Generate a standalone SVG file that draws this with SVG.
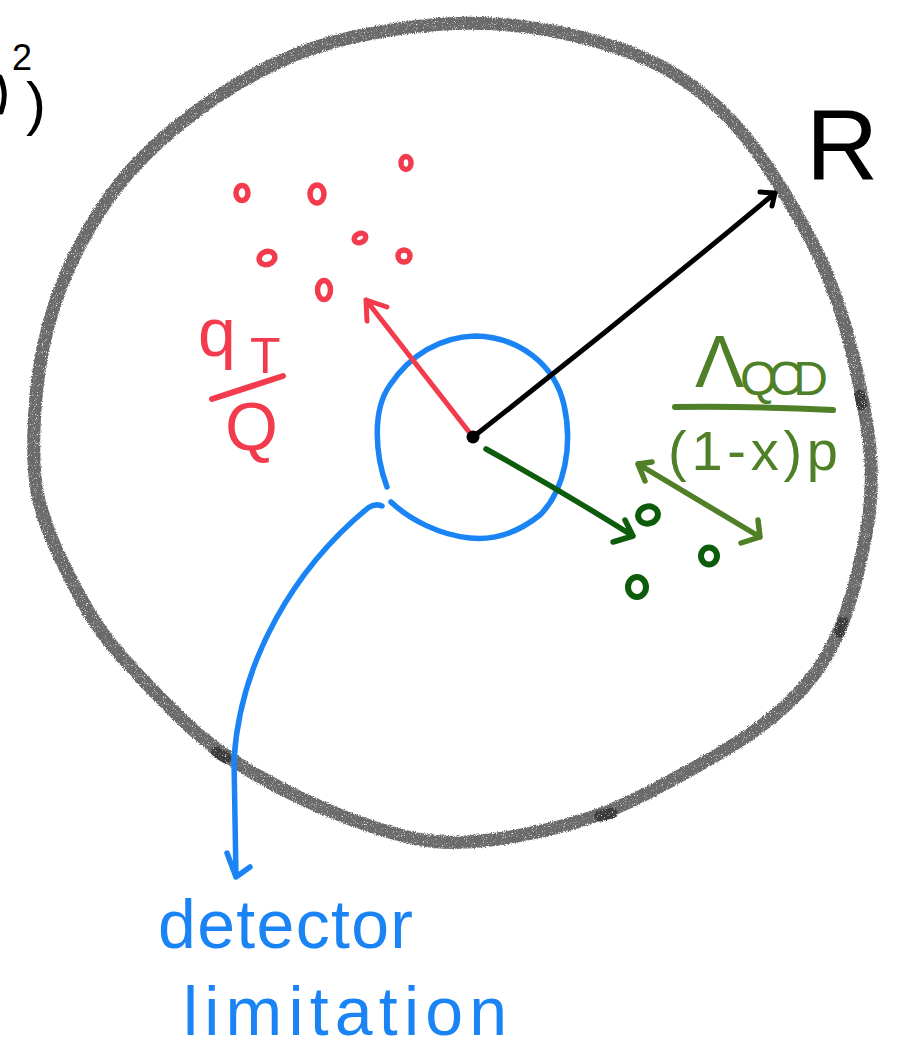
<svg xmlns="http://www.w3.org/2000/svg" width="903" height="1052" viewBox="0 0 903 1052">
<defs>
<style>
.ink{fill:none;stroke-linecap:round;stroke-linejoin:round}
.red{stroke:#f23b4c}
.blue{stroke:#1b84f5}
.dg{stroke:#0c5c0c}
.og{stroke:#4f7f26}
.blk{stroke:#000}
.hand{font-family:"Liberation Sans","DejaVu Sans",sans-serif}
</style>
<filter id="chalk" x="-5%" y="-5%" width="110%" height="110%">
<feTurbulence type="fractalNoise" baseFrequency="0.9" numOctaves="2" seed="3" result="noise"/>
<feDisplacementMap in="SourceGraphic" in2="noise" scale="4" xChannelSelector="R" yChannelSelector="G" result="d"/>
<feColorMatrix in="noise" type="matrix" values="0 0 0 0 0  0 0 0 0 0  0 0 0 0 0  4 0 0 0 -0.6" result="mask"/>
<feComposite in="d" in2="mask" operator="in"/>
</filter>
</defs>
<rect width="903" height="1052" fill="#fff"/>

<g id="outer-circle" filter="url(#chalk)">
<path class="ink" stroke="#6b6b6b" stroke-width="13" d="M565,33.5 Q640,50 682.5,79 Q725,108 755,149 Q785,190 811.5,241 Q838,292 853,356 Q868,420 870.5,455 Q873,490 868,522.5 Q863,555 853,591 Q843,627 828,653.5 Q813,680 788,703.5 Q763,727 730,747 Q697,767 653.5,790 Q610,813 570,824 Q530,835 490,840 Q450,845 420,839.5 Q390,834 345,817 Q300,800 256.5,775 Q213,750 181.5,719 Q150,688 125,660.5 Q100,633 83.5,603 Q67,573 55,546.5 Q43,520 37.5,493.5 Q32,467 34.5,417 Q37,367 48.5,325 Q60,283 80,245 Q100,207 125,177 Q150,147 191.5,115 Q233,83 283,60 Q333,37 411.5,27 Q490,17 565,33.5 Z"/>
<path class="ink" stroke="#3a3a3a" stroke-width="11" d="M216,752 L226,758 M600,816 L612,813 M843,622 L840,632 M860,395 L862,405"/>
</g>

<g id="fragment-top-left">
<path class="ink blk" stroke-width="5" d="M0,77 Q8,94 1,112"/>
<text class="hand" x="12" y="70" font-size="36" fill="#000">2</text>
<text class="hand" x="26" y="124" font-size="60" fill="#000">)</text>
</g>

<g id="inner-circle">
<path class="ink blue" stroke-width="5.5" d="M387,487 C375,455 372,410 390,385 C410,355 440,337 475,336 C520,337 555,365 564,405 C573,445 565,490 540,515 C515,535 490,540 470,538 C440,535 410,520 391,502"/>
</g>

<g id="red-particles" class="ink red" stroke-width="5.5">
<ellipse cx="242" cy="193" rx="6" ry="7.5"/>
<ellipse cx="317" cy="194" rx="7" ry="9"/>
<ellipse cx="406" cy="163" rx="5" ry="6.5"/>
<ellipse cx="360" cy="238" rx="6" ry="4.5" transform="rotate(-25 360 238)"/>
<ellipse cx="267" cy="258" rx="8" ry="6.5" transform="rotate(-20 267 258)"/>
<ellipse cx="404" cy="256" rx="6" ry="6"/>
<ellipse cx="324" cy="290" rx="6.5" ry="9.5"/>
</g>

<g id="green-particles" class="ink dg" stroke-width="6">
<ellipse cx="648" cy="515" rx="10" ry="8.5" transform="rotate(-15 648 515)"/>
<ellipse cx="709" cy="556" rx="8" ry="8.5"/>
<ellipse cx="637" cy="587" rx="9" ry="10"/>
</g>

<g id="connectors">
<path class="ink blk" stroke-width="5" d="M473,437 Q625,318 775,193 M760,192 L775,193 L772,206"/>
<path class="ink red" stroke-width="5" d="M473,437 L366,300 M367,321 L366,300 L387,307"/>
<path class="ink dg" stroke-width="5.5" d="M486,449 Q560,490 633,536 M613,542 L633,536 L625,520"/>
<path class="ink og" stroke-width="5.5" d="M638,464 L760,537 M652,462 L638,464 L645,481 M758,520 L760,537 L741,543"/>
<path class="ink blue" stroke-width="5.5" d="M382,506 Q375,503 368,508 C295,568 240,660 234,760 L236,877 M227,853 L236,877 L250,867"/>
<circle cx="473" cy="437" r="6.5" fill="#000"/>
</g>

<g id="label-R">
<text class="hand" x="806" y="180" font-size="100" fill="#000">R</text>
</g>

<g id="label-qT-over-Q" fill="#f23b4c">
<text class="hand" x="198" y="356" font-size="68">q</text>
<text class="hand" x="250" y="373" font-size="50">T</text>
<path class="ink red" stroke-width="6" d="M212,399 L283,376"/>
<text class="hand" x="225" y="450" font-size="68">Q</text>
</g>

<g id="label-lambda" fill="#4f7f26">
<text class="hand" x="695" y="387" font-size="74">Λ</text>
<text class="hand" x="740" y="395" font-size="48" textLength="88" lengthAdjust="spacing">QCD</text>
<path class="ink og" stroke-width="6" d="M675,407 Q755,406 833,410"/>
<text class="hand" x="668" y="470" font-size="56" textLength="170" lengthAdjust="spacing">(1-x)p</text>
</g>

<g id="label-detector" fill="#1b84f5">
<text class="hand" x="158" y="948" font-size="68" textLength="255" lengthAdjust="spacing">detector</text>
<text class="hand" x="183" y="1035" font-size="68" textLength="324" lengthAdjust="spacing">limitation</text>
</g>
</svg>
